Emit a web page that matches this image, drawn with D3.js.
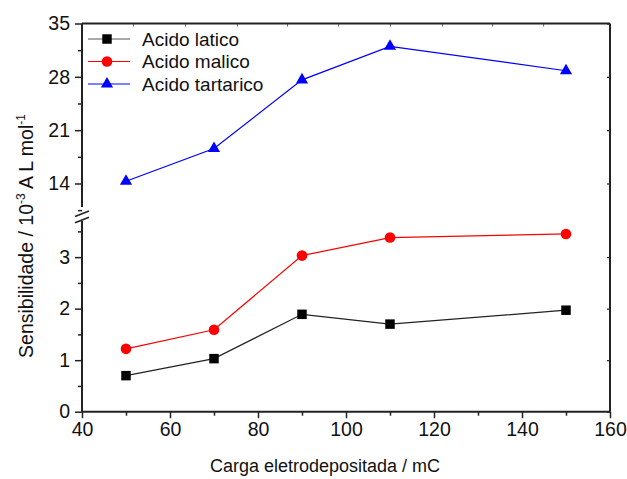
<!DOCTYPE html>
<html>
<head>
<meta charset="utf-8">
<script src="https://cdn.jsdelivr.net/npm/d3@7"></script>
<style>
  body { margin: 0; background: #fff; }
  svg { display: block; font-family: "Liberation Sans", Arial, sans-serif; }
</style>
</head>
<body>
<div id="chart"></div>
<script>
// sensibilidade vs carga, y axis broken in two segments
const charge = [50, 70, 90, 110, 150];
const latico = [0.70, 1.03, 1.89, 1.70, 1.97];
const malico = [1.22, 1.59, 3.03, 3.38, 3.45];
const tartarico = [14.3, 18.6, 27.6, 32.0, 28.8];

const seriesNames = ["Acido latico", "Acido malico", "Acido tartarico"];
const xTicks = [40, 60, 80, 100, 120, 140, 160];
const xMinor = [50, 70, 90, 110, 130, 150];
const lowTicks = [0, 1, 2, 3];
const lowMinor = [0.5, 1.5, 2.5, 3.5];
const upTicks = [14, 21, 28, 35];
const upMinor = [10.5, 17.5, 24.5, 31.5];
const topTicks = [51.6, 63.4, 75.2, 86.6, 98.2, 110, 121.8, 133.2, 144.8];

const W = 627, H = 479;
const pLeft = 82, pRight = 610, pTop = 23.5, pBottom = 411.7;

const svg = d3.select("#chart").append("svg")
  .attr("width", W).attr("height", H);

const x = d3.scaleLinear().domain([40, 160]).range([pLeft, pRight]);
const yLow = d3.scaleLinear().domain([0, 3.74]).range([pBottom, 219]);
const yUp = d3.scaleLinear().domain([10.1, 35]).range([213.2, pTop]);

const axisColor = "#222";
const fmt = d3.format("d");

// ---- axes ----
// bottom
svg.append("g")
  .attr("transform", "translate(0," + pBottom + ")")
  .call(d3.axisBottom(x).tickValues(xTicks).tickFormat(fmt).tickSize(6.5).tickPadding(4))
  .call(g => g.select(".domain").remove())
  .call(g => g.selectAll("line").attr("stroke", axisColor).attr("stroke-width", 1.5))
  .call(g => g.selectAll("text").attr("font-size", 19.5).attr("fill", "#111")
    .attr("font-family", "'Liberation Sans', Arial, sans-serif"));
svg.append("g")
  .attr("transform", "translate(0," + pBottom + ")")
  .call(d3.axisBottom(x).tickValues(xMinor).tickSize(4).tickFormat(""))
  .call(g => g.select(".domain").remove())
  .call(g => g.selectAll("line").attr("stroke", axisColor).attr("stroke-width", 1.5));

// left, both segments
function leftAxis(scale, major, minor) {
  svg.append("g")
    .attr("transform", "translate(" + pLeft + ",0)")
    .call(d3.axisLeft(scale).tickValues(major).tickFormat(fmt).tickSize(7).tickPadding(5))
    .call(g => g.select(".domain").remove())
    .call(g => g.selectAll("line").attr("stroke", axisColor).attr("stroke-width", 1.5))
    .call(g => g.selectAll("text").attr("font-size", 19.5).attr("fill", "#111")
      .attr("font-family", "'Liberation Sans', Arial, sans-serif"));
  svg.append("g")
    .attr("transform", "translate(" + pLeft + ",0)")
    .call(d3.axisLeft(scale).tickValues(minor).tickSize(4).tickFormat(""))
    .call(g => g.select(".domain").remove())
    .call(g => g.selectAll("line").attr("stroke", axisColor).attr("stroke-width", 1.5));
}
leftAxis(yLow, lowTicks, lowMinor);
leftAxis(yUp, upTicks, upMinor);

// right side ticks (inward)
function rightTicks(scale, vals) {
  svg.append("g")
    .attr("transform", "translate(" + pRight + ",0)")
    .call(d3.axisLeft(scale).tickValues(vals).tickSize(3).tickFormat(""))
    .call(g => g.select(".domain").remove())
    .call(g => g.selectAll("line").attr("stroke", axisColor).attr("stroke-width", 1.2));
}
rightTicks(yLow, lowTicks);
rightTicks(yUp, upTicks);

// top ticks (inward)
svg.append("g")
  .attr("transform", "translate(0," + pTop + ")")
  .call(d3.axisBottom(x).tickValues(topTicks).tickSize(3).tickFormat(""))
  .call(g => g.select(".domain").remove())
  .call(g => g.selectAll("line").attr("stroke", "#666").attr("stroke-width", 1));

// frame lines
const frame = svg.append("g").attr("stroke", axisColor).attr("stroke-width", 2).attr("fill", "none");
frame.append("line").attr("x1", pLeft).attr("x2", pRight).attr("y1", pTop).attr("y2", pTop);
frame.append("line").attr("x1", pLeft).attr("x2", pRight).attr("y1", pBottom).attr("y2", pBottom);
frame.append("line").attr("x1", pRight).attr("x2", pRight).attr("y1", pTop).attr("y2", pBottom);
frame.append("line").attr("x1", pLeft).attr("x2", pLeft).attr("y1", pTop).attr("y2", 207);
frame.append("line").attr("x1", pLeft).attr("x2", pLeft).attr("y1", 221).attr("y2", pBottom);
// break marks
[213.7, 220].forEach(cy => {
  frame.append("line")
    .attr("x1", pLeft - 7).attr("y1", cy + 2.8)
    .attr("x2", pLeft + 7).attr("y2", cy - 2.8)
    .attr("stroke-width", 1.6);
});

// ---- series ----
const series = [
  { name: seriesNames[0], values: latico, scale: yLow, color: "#000", lcolor: "#222", sym: d3.symbolSquare, size: 90 },
  { name: seriesNames[1], values: malico, scale: yLow, color: "#ff0000", lcolor: "#ff0000", sym: d3.symbolCircle, size: 88 },
  { name: seriesNames[2], values: tartarico, scale: yUp, color: "#0000ff", lcolor: "#0000ff", sym: d3.symbolTriangle, size: 64 }
];

series.forEach(s => {
  const pts = charge.map((c, i) => [c, s.values[i]]);
  svg.append("path")
    .datum(pts)
    .attr("fill", "none")
    .attr("stroke", s.lcolor)
    .attr("stroke-width", 1.2)
    .attr("d", d3.line().x(d => x(d[0])).y(d => s.scale(d[1])));
  svg.selectAll(null)
    .data(pts)
    .enter().append("path")
    .attr("transform", d => "translate(" + x(d[0]) + "," + s.scale(d[1]) + ")")
    .attr("d", d3.symbol().type(s.sym).size(s.size))
    .attr("fill", s.color);
});

// ---- legend ----
const legend = svg.append("g");
series.forEach((s, i) => {
  const ly = 39 + i * 22.5;
  legend.append("line")
    .attr("x1", 88).attr("x2", 130).attr("y1", ly).attr("y2", ly)
    .attr("stroke", i === 0 ? "#555" : s.lcolor).attr("stroke-width", 1.2);
  legend.append("path")
    .attr("transform", "translate(107," + ly + ")")
    .attr("d", d3.symbol().type(s.sym).size(s.size))
    .attr("fill", s.color);
  legend.append("text")
    .attr("x", 142).attr("y", ly).attr("dy", "0.36em")
    .attr("font-size", 19).attr("fill", "#111")
    .text(s.name);
});

// ---- axis titles ----
svg.append("text")
  .attr("x", 325).attr("y", 472)
  .attr("text-anchor", "middle")
  .attr("font-size", 18).attr("fill", "#111")
  .text("Carga eletrodepositada / mC");

const yt = svg.append("text")
  .attr("transform", "translate(33,236) rotate(-90)")
  .attr("text-anchor", "middle")
  .attr("font-size", 19.5).attr("fill", "#111");
yt.append("tspan").text("Sensibilidade / 10");
yt.append("tspan").attr("dy", -8).attr("font-size", 12).text("-3");
yt.append("tspan").attr("dy", 8).text(" A L mol");
yt.append("tspan").attr("dy", -8).attr("font-size", 12).text("-1");
</script>
</body>
</html>
